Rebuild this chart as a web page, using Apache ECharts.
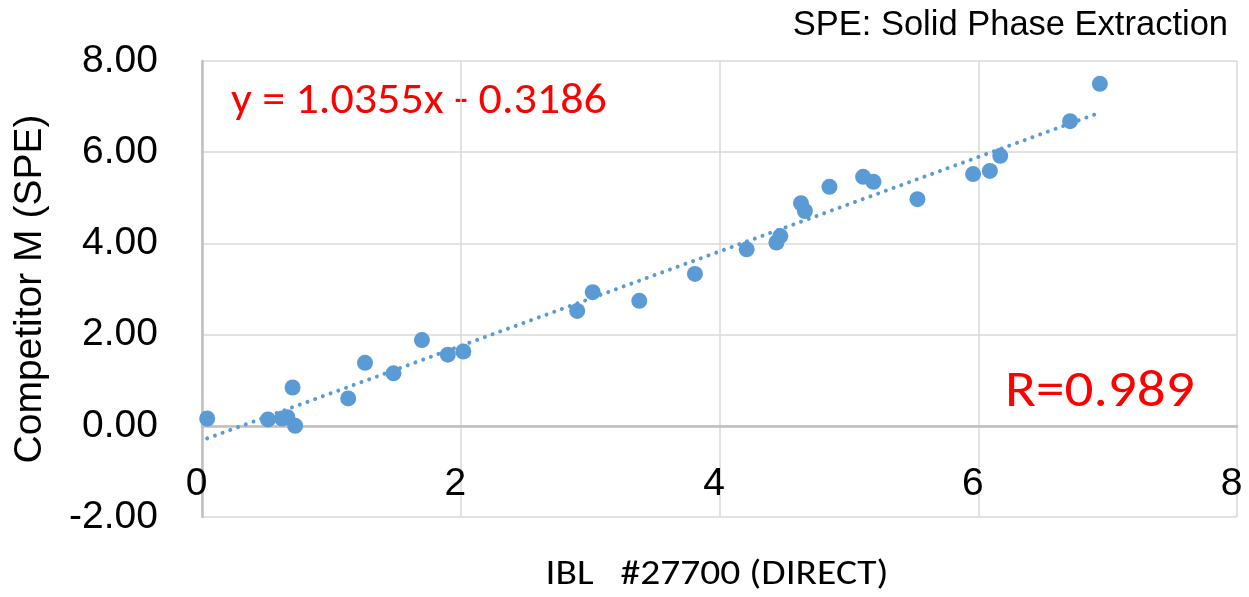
<!DOCTYPE html>
<html>
<head>
<meta charset="utf-8">
<script src="https://cdn.jsdelivr.net/npm/echarts@6/dist/echarts.min.js"></script>
<style>
html,body{margin:0;padding:0;background:#fff;}
#chart{width:1249px;height:597px;}
</style>
</head>
<body>
<div id="chart"></div>
<script>
// Data
const ibl = [0.04, 0.51, 0.62, 0.66, 0.72, 0.70, 1.13, 1.26, 1.48, 1.70, 1.90, 2.02,
             2.90, 3.02, 3.38, 3.81, 4.21, 4.44, 4.47, 4.63, 4.66, 4.85, 5.11, 5.19,
             5.53, 5.96, 6.09, 6.17, 6.71, 6.94];
const competitor = [0.16, 0.14, 0.16, 0.19, 0.00, 0.84, 0.60, 1.38, 1.15, 1.88, 1.56, 1.63,
                    2.52, 2.93, 2.74, 3.33, 3.87, 4.02, 4.16, 4.88, 4.71, 5.24, 5.46, 5.35,
                    4.97, 5.52, 5.59, 5.92, 6.68, 7.50];
const trendSlope = 1.0355;
const trendIntercept = -0.3186;
const xTicks = [0, 8, 2];      // min, max, interval
const yTicks = [-2, 8, 2];     // min, max, interval
const equationText = 'y = 1.0355x - 0.3186';
const rText = 'R=0.989';
const noteText = 'SPE: Solid Phase Extraction';
const xTitle = 'IBL   #27700 (DIRECT)';
const yTitle = 'Competitor M (SPE)';

const points = ibl.map((x, i) => [x, competitor[i]]);
const xMin = Math.min(...ibl), xMax = Math.max(...ibl);
const trend = [[xMin, trendSlope * xMin + trendIntercept], [xMax, trendSlope * xMax + trendIntercept]];

const ARIAL = '"Liberation Sans", Arial, sans-serif';
const CAL = 'Carlito, Lato, sans-serif';
const blue = '#5b9bd5';

const chart = echarts.init(document.getElementById('chart'));
chart.setOption({
  animation: false,
  backgroundColor: '#ffffff',
  grid: { left: 202, right: 12, top: 61, bottom: 80, containLabel: false },
  xAxis: {
    type: 'value', min: xTicks[0], max: xTicks[1], interval: xTicks[2],
    axisLine: { show: true, onZero: true, lineStyle: { color: '#bfbfbf', width: 2.5 } },
    axisTick: { show: false },
    splitLine: { show: true, lineStyle: { color: '#d9d9d9', width: 1.5 } },
    axisLabel: { color: '#000', fontFamily: ARIAL, fontSize: 39, margin: -33, verticalAlign: 'middle', padding: [0, 11, 0, 0] }
  },
  yAxis: {
    type: 'value', min: yTicks[0], max: yTicks[1], interval: yTicks[2],
    axisLine: { show: true, onZero: false, lineStyle: { color: '#bfbfbf', width: 2.5 } },
    axisTick: { show: false },
    splitLine: { show: true, lineStyle: { color: '#d9d9d9', width: 1.5 } },
    axisLabel: { color: '#000', fontFamily: ARIAL, fontSize: 39, margin: 44, formatter: v => v.toFixed(2) }
  },
  series: [
    {
      type: 'scatter', data: points, symbol: 'circle', symbolSize: 16,
      itemStyle: { color: blue, opacity: 1 }, z: 2
    },
    {
      type: 'line', data: trend, symbol: 'none', silent: true, z: 3,
      lineStyle: { color: blue, width: 4, type: [0.01, 8.2], cap: 'round' }
    }
  ],
  graphic: [
    { type: 'text', x: 1228, y: 25, style: { text: noteText, font: '34.5px ' + ARIAL, fill: '#000', align: 'right', verticalAlign: 'middle' } },
    { type: 'text', x: 30, y: 289, rotation: Math.PI / 2, style: { text: yTitle, font: '39px ' + ARIAL, fill: '#000', align: 'center', verticalAlign: 'middle' } },
    { type: 'text', x: 717, y: 575, scaleX: 1.13, style: { text: xTitle, font: '35px ' + CAL, fill: '#000', align: 'center', verticalAlign: 'middle' } },
    { type: 'text', x: 231, y: 102, scaleX: 1.07, style: { text: equationText, font: '43px ' + CAL, fill: '#ff0000', align: 'left', verticalAlign: 'middle' } },
    { type: 'text', x: 1005, y: 393, scaleX: 1.12, style: { text: rText, font: '51px ' + CAL, fill: '#ff0000', align: 'left', verticalAlign: 'middle' } }
  ]
});
</script>
</body>
</html>
